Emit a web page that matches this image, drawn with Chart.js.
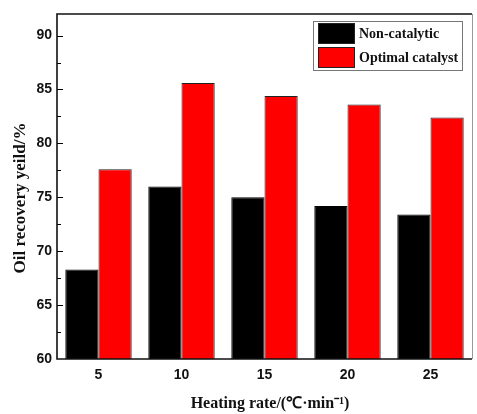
<!DOCTYPE html>
<html>
<head>
<meta charset="utf-8">
<script src="https://cdn.jsdelivr.net/npm/chart.js@4.4.0/dist/chart.umd.min.js"></script>
<style>
  html, body { margin: 0; padding: 0; background: #fff; }
  #wrap { width: 477px; height: 414px; }
</style>
</head>
<body>
<div id="wrap"><canvas id="barChart" width="477" height="414"></canvas></div>
<script>
// heating rates (categories) and oil recovery yields (%)
const heatingRates = ['5', '10', '15', '20', '25'];
const nonCatalytic = [68.3, 76.0, 75.0, 74.2, 73.4];
const optimalCatalyst = [77.6, 85.6, 84.4, 83.6, 82.4];
const yMin = 60;
const yMax = 92;
const yStep = 2.5;

const xTitle = 'Heating rate/(\u2103\u00b7min\u207b\u00b9)';
const yTitle = 'Oil recovery yeild/%';

// frame, inward ticks, axis titles and the boxed legend
const decorPlugin = {
    id: 'decor',
    afterDraw(chart) {
        const ctx = chart.ctx;
        const a = chart.chartArea;
        const y = chart.scales.y;
        ctx.save();

        // inner ticks on the left axis
        ctx.strokeStyle = '#000';
        ctx.lineWidth = 1;
        y.ticks.forEach(t => {
            if (Math.abs(t.value / yStep - Math.round(t.value / yStep)) > 1e-6) return;
            if (t.value <= yMin) return;
            const py = Math.round(y.getPixelForValue(t.value)) + 0.5;
            const len = (t.value % 5 === 0) ? 6 : 4;
            ctx.beginPath();
            ctx.moveTo(a.left, py);
            ctx.lineTo(a.left + len, py);
            ctx.stroke();
        });

        // frame
        ctx.strokeStyle = '#999';
        ctx.lineWidth = 1;
        ctx.beginPath();
        ctx.moveTo(a.right + 0.5, a.top);
        ctx.lineTo(a.right + 0.5, a.bottom);
        ctx.stroke();
        ctx.strokeStyle = '#111';
        ctx.lineWidth = 1.6;
        ctx.beginPath();
        ctx.moveTo(a.right, a.top);
        ctx.lineTo(a.left, a.top);
        ctx.lineTo(a.left, a.bottom);
        ctx.lineTo(a.right, a.bottom);
        ctx.stroke();

        // axis titles
        ctx.fillStyle = '#111';
        ctx.font = 'bold 16px "Liberation Serif", "Times New Roman", serif';
        ctx.textAlign = 'center';
        ctx.textBaseline = 'middle';
        ctx.fillText(xTitle, 270, 404);
        ctx.save();
        ctx.translate(21, 198);
        ctx.rotate(-Math.PI / 2);
        ctx.font = 'bold 17px "Liberation Serif", "Times New Roman", serif';
        ctx.fillText(yTitle, 0, 0);
        ctx.restore();

        // legend box
        ctx.strokeStyle = '#777';
        ctx.lineWidth = 1;
        ctx.strokeRect(313.5, 21.5, 149, 49);
        ctx.font = 'bold 14px "Liberation Serif", "Times New Roman", serif';
        ctx.textAlign = 'left';
        chart.data.datasets.forEach((ds, i) => {
            const top = 23 + i * 24;
            ctx.fillStyle = ds.backgroundColor;
            ctx.fillRect(318, top, 37, 21);
            ctx.strokeStyle = '#222';
            ctx.strokeRect(318.5, top + 0.5, 36, 20);
            ctx.fillStyle = '#111';
            ctx.fillText(ds.label, 359, top + 11);
        });
        ctx.restore();
    }
};

const ctx = document.getElementById('barChart').getContext('2d');
new Chart(ctx, {
    type: 'bar',
    data: {
        labels: heatingRates,
        datasets: [
            {
                label: 'Non-catalytic',
                data: nonCatalytic,
                backgroundColor: '#000000',
                borderColor: '#000000',
                borderWidth: 1
            },
            {
                label: 'Optimal catalyst',
                data: optimalCatalyst,
                backgroundColor: '#ff0000',
                borderColor: '#222222',
                borderWidth: 1
            }
        ]
    },
    options: {
        responsive: false,
        animation: false,
        devicePixelRatio: 1,
        layout: { padding: { left: 0, top: 14, right: 5, bottom: 0 } },
        plugins: {
            legend: { display: false },
            tooltip: { enabled: false }
        },
        datasets: {
            bar: { categoryPercentage: 0.8, barPercentage: 1.0 }
        },
        scales: {
            x: {
                grid: { display: false, drawTicks: false },
                border: { display: false },
                ticks: {
                    padding: 8,
                    color: '#111',
                    font: { family: '"Liberation Sans", Arial, sans-serif', size: 14, weight: 'bold' }
                },
                afterFit(scale) { scale.height = 55; }
            },
            y: {
                min: yMin,
                max: yMax,
                grid: { display: false, drawTicks: false },
                border: { display: false },
                ticks: {
                    stepSize: yStep,
                    padding: 5,
                    color: '#111',
                    font: { family: '"Liberation Sans", Arial, sans-serif', size: 14, weight: 'bold' },
                    callback: v => (v % 5 === 0 ? String(v) : '')
                },
                afterFit(scale) { scale.width = 57; }
            }
        }
    },
    plugins: [decorPlugin]
});
</script>
</body>
</html>
